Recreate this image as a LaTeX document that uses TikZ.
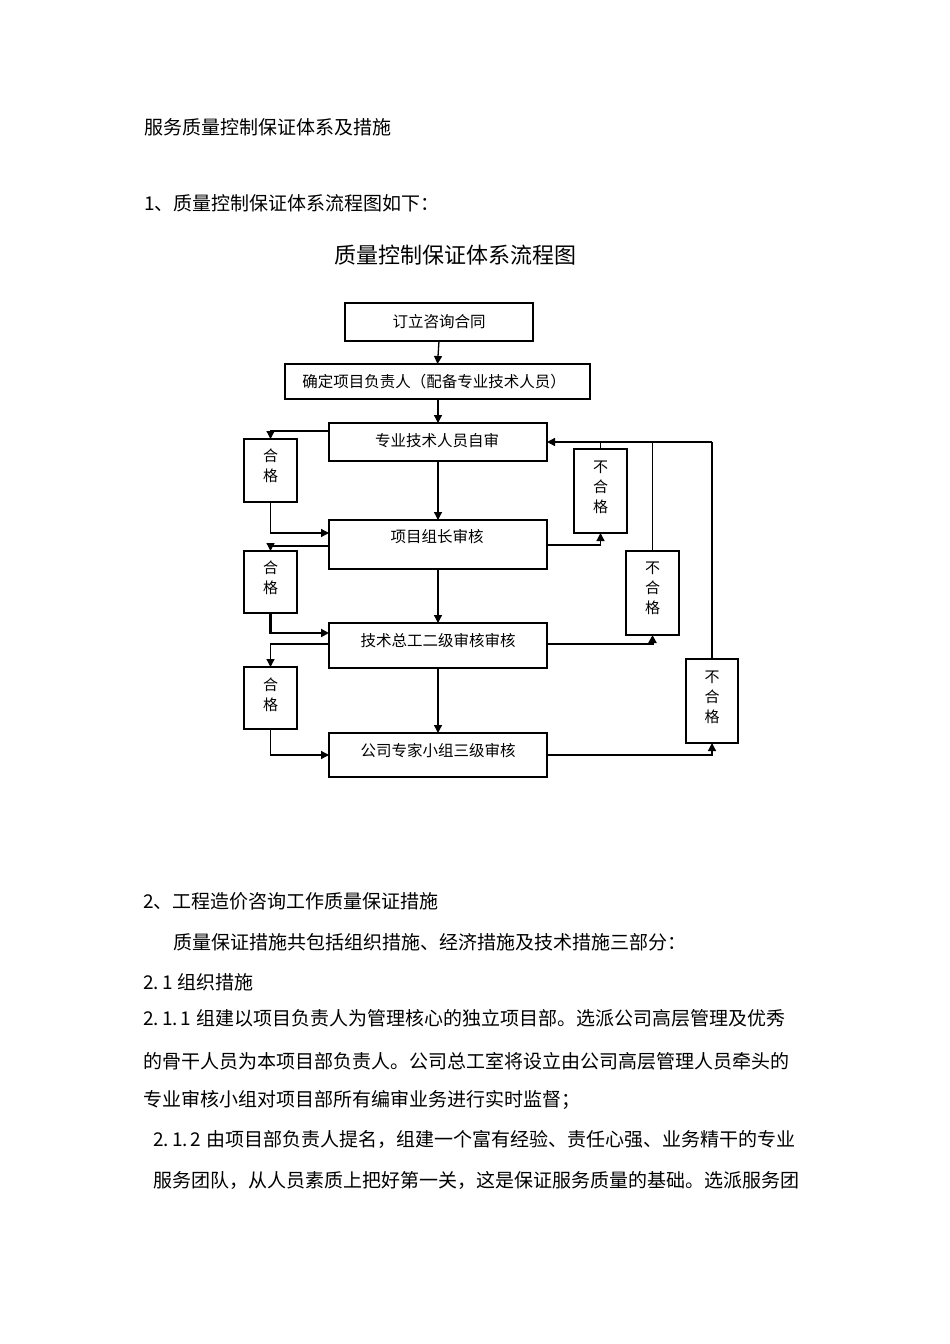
\documentclass[tikz,border=0pt]{standalone}
\usepackage{fontspec}
\setmainfont{Noto Sans CJK SC}
\usetikzlibrary{arrows.meta}
\begin{document}
\begin{tikzpicture}[x=1pt,y=-1pt,
  box/.style={draw=black, line width=1.3pt, inner sep=0pt, outer sep=0pt},
  thickbox/.style={box, line width=2.2pt},
  btxt/.style={inner sep=0pt, font=\fontsize{15.5}{15.5}\selectfont},
  vtxt/.style={inner sep=0pt, align=center, font=\fontsize{15}{20}\selectfont},
  body/.style={anchor=west, inner sep=0pt, font=\fontsize{19}{19}\selectfont},
  conn/.style={draw=black, line width=1.3pt, -{Triangle[length=8pt,width=8pt]}},
  thickconn/.style={conn, line width=2.2pt},
  line/.style={draw=black, line width=1.3pt}]
\fill[white] (0,0) rectangle (950,1344);
\useasboundingbox (0,0) rectangle (950,1344);

% page texts
\node[body] (t1) at (144,127) {服务质量控制保证体系及措施};
\node[body] (t2) at (144,203) {1、质量控制保证体系流程图如下：};
\node[inner sep=0pt, font=\fontsize{22}{22}\selectfont] (t3) at (455,255) {质量控制保证体系流程图};

% main boxes
\node[box, minimum width=188pt, minimum height=38pt] (b0) at (439,322) {};
\node[box, minimum width=305pt, minimum height=35pt] (b1) at (437.5,381.5) {};
\node[box, minimum width=218pt, minimum height=38pt] (b2) at (438,442) {};
\node[thickbox, minimum width=218pt, minimum height=49pt] (b3) at (438,544.5) {};
\node[box, minimum width=218pt, minimum height=45pt] (b4) at (438,645.5) {};
\node[box, minimum width=218pt, minimum height=44pt] (b5) at (438,755) {};

\node[btxt] (l0) at (439,322) {订立咨询合同};
\node[btxt] (l1) at (434,381.5) {确定项目负责人（配备专业技术人员）};
\node[btxt] (l2) at (437,441) {专业技术人员自审};
\node[btxt] (l3) at (437,537) {项目组长审核};
\node[btxt] (l4) at (438,641) {技术总工二级审核审核};
\node[btxt] (l5) at (438,751) {公司专家小组三级审核};

% pass boxes
\node[box, minimum width=53pt, minimum height=63pt] (p1) at (270.5,470.5) {};
\node[box, minimum width=53pt, minimum height=62pt] (p2) at (270.5,582) {};
\node[box, minimum width=53pt, minimum height=62pt] (p3) at (270.5,698) {};
\node[vtxt] (q1) at (270.5,466) {合\\格};
\node[vtxt] (q2) at (270.5,578) {合\\格};
\node[vtxt] (q3) at (270.5,695) {合\\格};

% fail boxes
\node[box, minimum width=53pt, minimum height=84pt] (f1) at (600.5,491) {};
\node[box, minimum width=53pt, minimum height=84pt] (f2) at (652.5,593) {};
\node[box, minimum width=52pt, minimum height=84pt] (f3) at (712,701) {};
\node[vtxt] (g1) at (600.5,487) {不\\合\\格};
\node[vtxt] (g2) at (652.5,588) {不\\合\\格};
\node[vtxt] (g3) at (712,697) {不\\合\\格};

% vertical main flow
\draw[conn] (b0.south) -- (b1.north);
\draw[conn] (b1.south -| b2.north) -- (b2.north);
\draw[conn] (b2.south) -- (b3.north);
\draw[conn] (b3.south) -- (b4.north);
\draw[conn] (b4.south) -- (b5.north);

% left side (pass)
\draw[conn] (b2.west |- 0,431) -| (p1.north);
\draw[conn] (p1.south) |- (b3.west |- 0,533);
\draw[conn] (b3.west |- 0,546) -| (p2.north);
\draw[thickconn] (p2.south) |- (b4.west |- 0,633);
\draw[conn] (b4.west |- 0,644) -| (p3.north);
\draw[conn] (p3.south) |- (b5.west |- 0,755);

% right side (fail)
\draw[conn] (b3.east |- 0,545) -| (f1.south);
\draw[thickconn] (b4.east |- 0,644) -| (f2.south);
\draw[conn] (b5.east |- 0,755) -| (f3.south);
\coordinate (r3) at (f3.north |- 0,442);
\draw[line, line width=2pt] (f3.north) -- (r3);
\draw[conn] (r3) -- (b2.east |- 0,442);
\draw[line] (f2.north) -- (f2.north |- 0,442);
\draw[line] (f1.north) -- (f1.north |- 0,442);

% lower texts
\node[body] (t4) at (143,901) {2、工程造价咨询工作质量保证措施};
\node[body] (t5) at (173,942) {质量保证措施共包括组织措施、经济措施及技术措施三部分：};
\node[body] (t6) at (143,982) {2.\hspace{3pt}1\hspace{5pt}组织措施};
\node[body] (t7) at (143,1018) {2.\hspace{3pt}1.\hspace{3pt}1\hspace{5pt}组建以项目负责人为管理核心的独立项目部。选派公司高层管理及优秀};
\node[body] (t8) at (143,1061) {的骨干人员为本项目部负责人。公司总工室将设立由公司高层管理人员牵头的};
\node[body] (t9) at (143,1100) {专业审核小组对项目部所有编审业务进行实时监督；};
\node[body] (t10) at (153,1139) {2.\hspace{3pt}1.\hspace{3pt}2\hspace{5pt}由项目部负责人提名，组建一个富有经验、责任心强、业务精干的专业};
\node[body] (t11) at (153,1180) {服务团队，从人员素质上把好第一关，这是保证服务质量的基础。选派服务团};
\end{tikzpicture}
\end{document}
